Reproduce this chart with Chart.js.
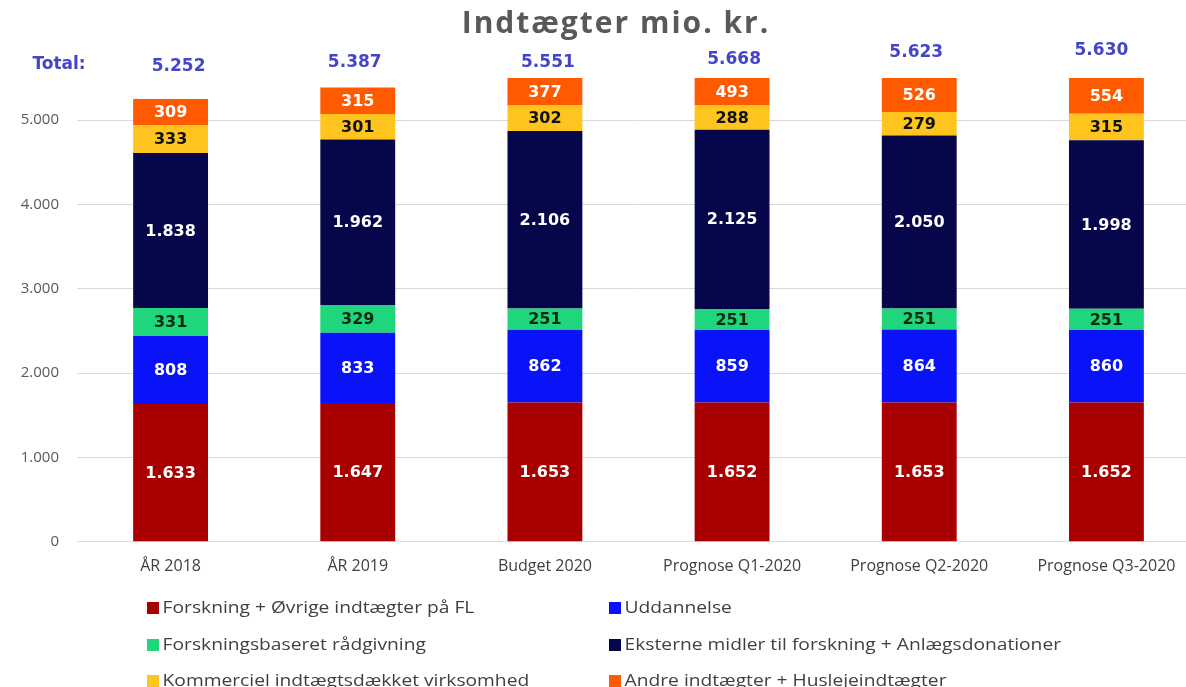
<!DOCTYPE html>
<html><head><meta charset="utf-8">
<script src="https://cdn.jsdelivr.net/npm/chart.js@4"></script>
<style>
html,body{margin:0;padding:0;background:#fff;overflow:hidden;width:1186px;height:687px;}
#wrap{position:absolute;left:0;top:0;width:1200px;height:583px;}
#legend{position:absolute;left:0;top:0;width:1186px;height:687px;pointer-events:none;font-family:"Open Sans",sans-serif;font-size:16px;color:#404040;}
.li{position:absolute;white-space:nowrap;line-height:20px;transform:scaleX(1.2);transform-origin:0 50%;}
.sw{display:inline-block;width:10px;height:12px;margin-right:3px;vertical-align:-1px;}
</style></head><body>
<div id="wrap"><canvas id="c" width="1200" height="583"></canvas></div>
<div id="legend"></div>
<script>
const categories = ["ÅR 2018","ÅR 2019","Budget 2020","Prognose Q1-2020","Prognose Q2-2020","Prognose Q3-2020"];
const seriesNames = ["Forskning + Øvrige indtægter på FL","Uddannelse","Forskningsbaseret rådgivning","Eksterne midler til forskning + Anlægsdonationer","Kommerciel indtægtsdækket virksomhed","Andre indtægter + Huslejeindtægter"];
const forskningFL = [1633,1647,1653,1652,1653,1652];
const uddannelse = [808,833,862,859,864,860];
const raadgivning = [331,329,251,251,251,251];
const eksterne = [1838,1962,2106,2125,2050,1998];
const kommerciel = [333,301,302,288,279,315];
const andre = [309,315,377,493,526,554];
const totals = ["5.252","5.387","5.551","5.668","5.623","5.630"];
const yTicks = [0,1000,2000,3000,4000,5000];

const colors = ["#A80000","#0A12FA","#20D67C","#06064A","#FFC51E","#FF5A00"];
const labelColors = ["#ffffff","#ffffff","#0a2a14","#ffffff","#111111","#ffffff"];
const totalPos = [[8,67],[-3,63],[3,63],[2,60],[-3,53],[-5,51]];
const seriesData = [forskningFL,uddannelse,raadgivning,eksterne,kommerciel,andre];

const fmt = v => String(v).replace(/\B(?=(\d{3})+(?!\d))/g, ".");

const labelPlugin = {
  id:'segLabels',
  afterDatasetsDraw(chart){
    const ctx = chart.ctx, ca = chart.chartArea;
    ctx.save();
    ctx.font = 'bold 16px "DejaVu Sans"';
    ctx.textAlign='center'; ctx.textBaseline='middle';
    chart.data.datasets.forEach((ds,di)=>{
      const meta = chart.getDatasetMeta(di);
      meta.data.forEach((el,i)=>{
        const top = Math.max(el.y, ca.top), bot = Math.min(el.base, ca.bottom);
        ctx.fillStyle = labelColors[di];
        ctx.fillText(fmt(ds.data[i]), el.x, (top+bot)/2+1);
      });
    });
    ctx.fillStyle = '#4545C8';
    ctx.font = 'bold 17px "DejaVu Sans"';
    const meta0 = chart.getDatasetMeta(0);
    meta0.data.forEach((el,i)=>{ ctx.fillText(totals[i], el.x+totalPos[i][0], totalPos[i][1]); });
    ctx.fillText('Total:', 59, 65);
    ctx.fillStyle = '#595959';
    ctx.font = 'bold 30px "Open Sans"';
    if ('letterSpacing' in ctx) ctx.letterSpacing = '2px';
    ctx.fillText('Indtægter mio. kr.', 616, 24);
    ctx.restore();
  }
};

new Chart(document.getElementById('c'),{
  type:'bar',
  data:{labels:categories,datasets:seriesData.map((d,i)=>({label:seriesNames[i],data:d,backgroundColor:colors[i],borderWidth:0,categoryPercentage:1,barPercentage:0.4}))},
  options:{
    responsive:false,animation:false,
    layout:{padding:{top:78,left:0,right:0,bottom:0}},
    plugins:{legend:{display:false},title:{display:false},tooltip:{enabled:false}},
    scales:{
      x:{stacked:true,grid:{display:false},border:{display:false},
         ticks:{color:'#404040',font:{family:'"Open Sans"',size:16},padding:7,maxRotation:0,autoSkip:false}},
      y:{stacked:true,min:0,max:5500,border:{display:false},
         grid:{color:'#d9d9d9',lineWidth:1,drawTicks:false},
         afterBuildTicks:s=>{s.ticks=yTicks.map(v=>({value:v}));},
         afterFit:s=>{s.width=77;},
         ticks:{color:'#595959',font:{family:'"Open Sans"',size:15},padding:18,callback:v=>fmt(v)}}
    }
  },
  plugins:[labelPlugin]
});

const leg = document.getElementById('legend');
const pos = [[147,607],[609,607],[147,644],[609,644],[147,680],[609,680]];
seriesNames.forEach((n,i)=>{
  const d=document.createElement('div'); d.className='li';
  d.style.left=pos[i][0]+'px'; d.style.top=(pos[i][1]-10)+'px';
  d.innerHTML='<span class="sw" style="background:'+colors[i]+'"></span>'+n;
  leg.appendChild(d);
});
</script>
</body></html>
